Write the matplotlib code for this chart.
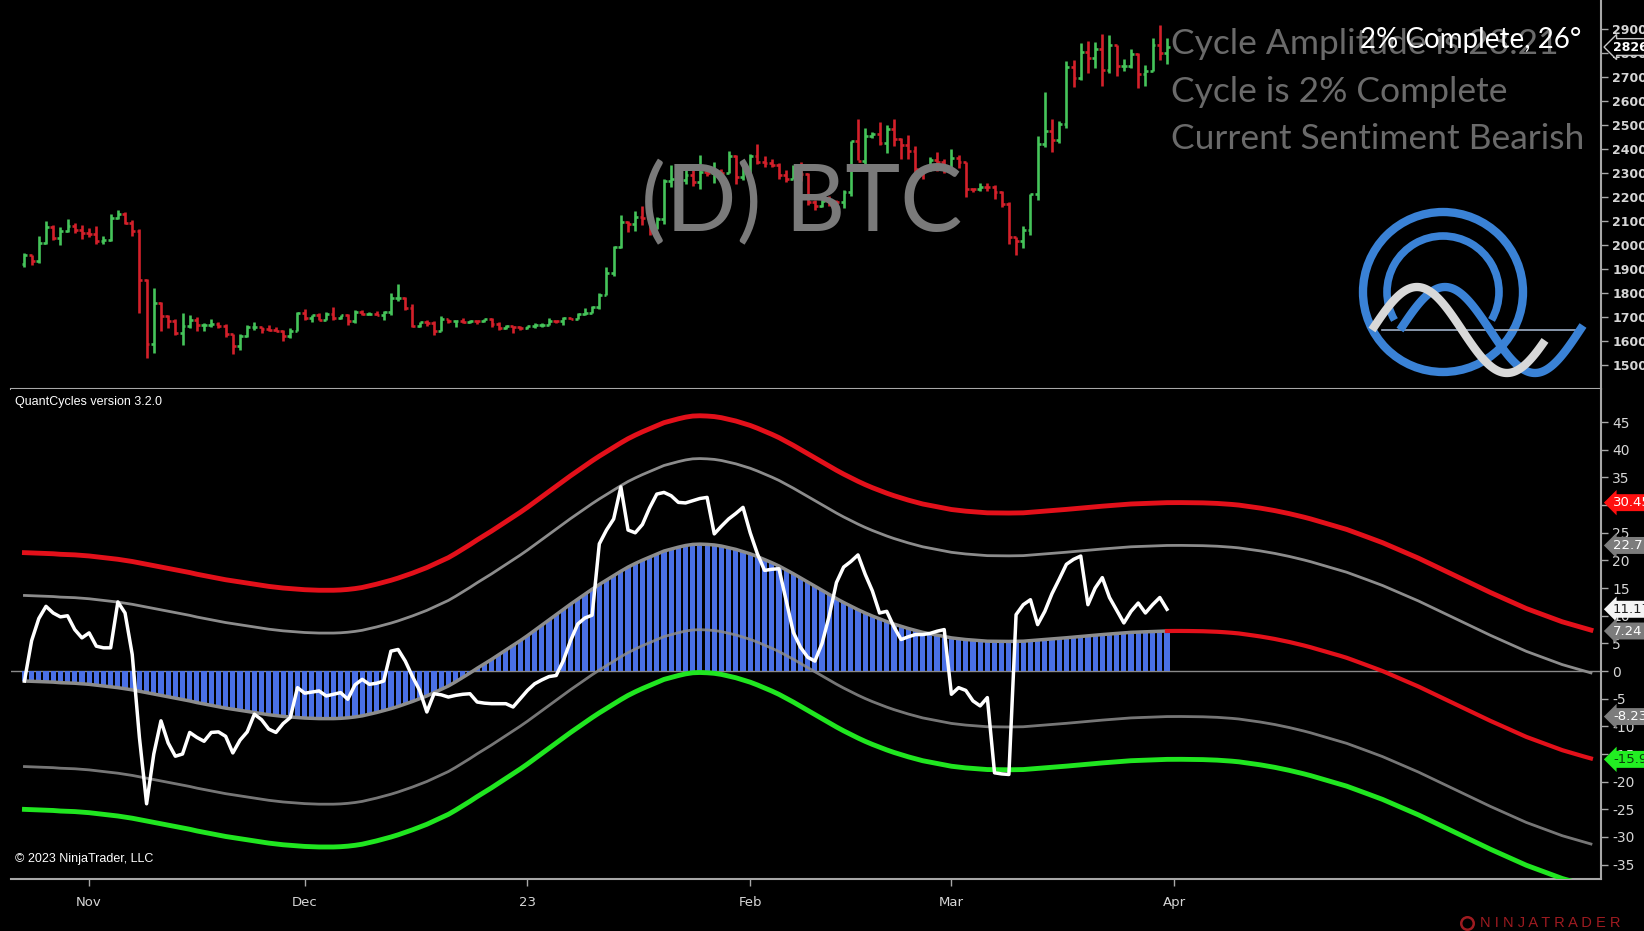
import numpy as np
import matplotlib.pyplot as plt
from matplotlib.patches import Circle, Arc
from matplotlib.lines import Line2D
from matplotlib.transforms import blended_transform_factory

W, H = 1644, 931

# daily bars, day 0 = 1 Nov 2022 (first bar 23 Oct 2022, last bar 31 Mar 2023)
first_day = -9

opens = [19205, 19570, 19330, 20090, 20770, 20290, 20600, 20810, 20630,
         20490, 20480, 20160, 20210, 21150, 21300, 20920, 20590, 18550, 15880, 17590, 17040, 16850, 16330, 16610,
         16890, 16670, 16690, 16700, 16630, 16290, 15780, 16230, 16600, 16600, 16520, 16460, 16440, 16210, 16440,
         17170, 16980, 17090, 16890, 17110, 16970, 17090, 16840, 17230, 17130, 17130, 17090, 17210, 17780, 17810,
         17360, 16630, 16780, 16740, 16440, 16900, 16820, 16830, 16780, 16840, 16830, 16920, 16700, 16540, 16630, 16600,
         16540, 16610, 16670, 16670, 16850, 16830, 16950, 16940, 17120, 17180, 17440, 17940, 18850, 19930, 20950,
         20870, 21180, 21130, 20680, 21080, 22670, 22780, 22710, 22920, 22630, 23060, 23010, 23080, 23030, 23740, 22830,
         23130, 23730, 23490, 23430, 23330, 22940, 22760, 23250, 22960, 21800, 21630, 21860, 21790, 21780, 22200,
         24330, 23530, 24570, 24630, 24280, 24840, 24440, 24190, 23940, 23180, 23150, 23560, 23490,
         23140, 23650, 23470, 22360, 22350, 22430, 22410, 22200, 21700, 20360, 20190, 20630, 22150, 24200, 24750,
         24370, 25050, 27420, 26960, 28040, 27790, 28170, 27300, 28330, 27480, 27480, 27990, 27130, 27270, 28350, 28030]
highs = [19690, 19600, 20400, 21000, 20850, 20750, 21080, 20930, 20830,
         20700, 20800, 20390, 21300, 21470, 21370, 21060, 20670, 18600, 18200, 17650, 17070, 16920, 17170, 17100,
         17000, 16750, 16900, 16800, 16730, 16300, 16280, 16680, 16800, 16600, 16690, 16590, 16480, 16530, 17200,
         17320, 17100, 17150, 17200, 17420, 17100, 17130, 17290, 17300, 17220, 17270, 17240, 18000, 18390, 17850,
         17530, 16800, 16870, 16820, 17040, 16910, 16870, 16950, 16860, 16860, 16940, 16960, 16780, 16650, 16640, 16630,
         16630, 16760, 16770, 16970, 16880, 17000, 16960, 17160, 17390, 17480, 17990, 19100, 19970, 21260, 21000,
         21440, 21620, 21640, 21190, 22750, 23340, 23060, 23150, 23130, 23780, 23240, 23490, 23160, 23930, 23780, 23300,
         23800, 24230, 23700, 23580, 23430, 23150, 23350, 23450, 23000, 21900, 21900, 22070, 21890, 22300, 24350,
         25250, 24900, 24700, 25130, 25030, 25250, 24470, 24600, 24130, 23220, 23690, 23880, 23600,
         24000, 23770, 23480, 22400, 22600, 22600, 22530, 22260, 21810, 20360, 20800, 22150, 24570, 26390, 25250,
         25190, 27700, 27720, 28430, 28500, 28470, 28800, 28750, 28370, 27780, 28200, 28020, 27500, 28650, 29170, 28640]
lows = [19080, 19160, 19250, 20060, 20220, 20000, 20560, 20520, 20250,
        20340, 20060, 20050, 20180, 21080, 20900, 20400, 17170, 15300, 15500, 16400, 16530, 16250, 15830, 16550,
        16400, 16430, 16580, 16550, 16160, 15480, 15630, 16170, 16460, 16350, 16430, 16400, 16000, 16110, 16440,
        16860, 16800, 16880, 16880, 16880, 16910, 16690, 16740, 17070, 17090, 17070, 16870, 17080, 17660, 17280,
        16590, 16590, 16630, 16270, 16400, 16740, 16570, 16770, 16760, 16730, 16790, 16590, 16470, 16490, 16330, 16480,
        16500, 16550, 16600, 16660, 16750, 16680, 16900, 16910, 17100, 17150, 17320, 17940, 18720, 19890, 20560,
        20600, 20850, 20410, 20670, 20870, 22430, 22330, 22540, 22480, 22340, 22880, 22580, 22900, 23000, 22570, 22720,
        22780, 23400, 23250, 23260, 22770, 22640, 22750, 22690, 21690, 21460, 21600, 21650, 21370, 21530, 22070,
        23550, 23370, 24450, 24180, 23860, 24150, 23590, 23600, 22850, 22740, 23080, 23100, 23020,
        23020, 23200, 21990, 22200, 22280, 22270, 21930, 21600, 20050, 19570, 19900, 20440, 21900, 24100, 23900,
        24250, 24900, 26610, 26900, 27200, 27370, 26650, 27180, 27040, 27280, 27400, 26550, 26650, 27250, 27720, 27550]
closes = [19570, 19330, 20090, 20770, 20290, 20600, 20810, 20630, 20490,
          20480, 20160, 20210, 21150, 21300, 20920, 20590, 18550, 15880, 17590, 17040, 16850, 16330, 16610, 16890,
          16670, 16690, 16700, 16630, 16290, 15780, 16230, 16600, 16600, 16520, 16460, 16440, 16210, 16440, 17170,
          16980, 17090, 16890, 17110, 16970, 17090, 16840, 17230, 17130, 17130, 17090, 17210, 17780, 17810, 17360,
          16630, 16780, 16740, 16440, 16900, 16820, 16830, 16780, 16840, 16830, 16920, 16700, 16540, 16630, 16600, 16540,
          16610, 16670, 16670, 16850, 16830, 16950, 16940, 17120, 17180, 17440, 17940, 18850, 19930, 20950, 20870,
          21180, 21130, 20680, 21080, 22670, 22780, 22710, 22920, 22630, 23060, 23010, 23080, 23030, 23740, 22830, 23130,
          23730, 23490, 23430, 23330, 22940, 22760, 23250, 22960, 21800, 21630, 21860, 21790, 21780, 22200, 24330,
          23530, 24570, 24630, 24280, 24840, 24440, 24190, 23940, 23180, 23150, 23560, 23490, 23140,
          23650, 23470, 22360, 22350, 22430, 22410, 22200, 21700, 20360, 20190, 20630, 22150, 24200, 24750, 24370,
          25050, 27420, 26960, 28040, 27790, 28170, 27300, 28330, 27480, 27480, 27990, 27130, 27270, 28350, 28030, 28265]

# cycle (histogram / centre line), day -9 .. 209 (projection after 31 Mar)
cycle = [-1.8, -1.85, -1.9, -1.95, -2.0, -2.1, -2.15, -2.2, -2.3, -2.4,
         -2.55, -2.7, -2.85, -3.0, -3.2, -3.4, -3.65, -3.9, -4.15, -4.4,
         -4.65, -4.9, -5.15, -5.4, -5.7, -5.95, -6.2, -6.45, -6.7, -6.9,
         -7.1, -7.3, -7.5, -7.7, -7.9, -8.05, -8.2, -8.3, -8.4, -8.5,
         -8.55, -8.6, -8.6, -8.6, -8.55, -8.45, -8.3, -8.1, -7.8, -7.5,
         -7.15, -6.8, -6.4, -5.95, -5.5, -5.0, -4.5, -3.9, -3.3, -2.7,
         -1.95, -1.15, -0.35, 0.5, 1.3, 2.1, 2.95, 3.8, 4.65, 5.5,
         6.4, 7.35, 8.3, 9.25, 10.2, 11.15, 12.1, 13.0, 13.9, 14.8,
         15.65, 16.45, 17.25, 18.05, 18.8, 19.45, 20.05, 20.6, 21.15, 21.7,
         22.05, 22.4, 22.7, 22.9, 22.95, 22.9, 22.8, 22.6, 22.3, 22.0,
         21.6, 21.2, 20.7, 20.15, 19.6, 19.0, 18.3, 17.6, 16.85, 16.1,
         15.35, 14.6, 13.85, 13.1, 12.4, 11.75, 11.1, 10.5, 9.95, 9.45,
         8.95, 8.5, 8.1, 7.7, 7.35, 7.0, 6.75, 6.5, 6.25, 6.0,
         5.85, 5.7, 5.6, 5.5, 5.4, 5.38, 5.36, 5.36, 5.38, 5.4,
         5.5, 5.6, 5.7, 5.8, 5.9, 6.02, 6.14, 6.26, 6.38, 6.5,
         6.6, 6.7, 6.8, 6.9, 7.0, 7.05, 7.1, 7.15, 7.2, 7.24,
         7.25, 7.25, 7.24, 7.22, 7.2, 7.15, 7.1, 7.02, 6.92, 6.8,
         6.62, 6.44, 6.25, 6.03, 5.8, 5.53, 5.26, 4.95, 4.64, 4.3,
         3.92, 3.55, 3.17, 2.8, 2.4, 1.93, 1.45, 0.97, 0.49, 0.0,
         -0.56, -1.12, -1.68, -2.24, -2.8, -3.42, -4.04, -4.66, -5.28, -5.9,
         -6.52, -7.14, -7.76, -8.38, -9.0, -9.58, -10.16, -10.74, -11.32, -11.9,
         -12.38, -12.86, -13.34, -13.82, -14.3, -14.68, -15.06, -15.44, -15.8]
# band offsets read from the right-hand value tags
outer_band = 23.21
inner_band = 15.47

# oscillator (white line), day -9 .. 150
osc = [-1.8, 5.5, 9.5, 11.7, 10.5, 9.8, 10.0, 7.5, 6.0, 6.9,
       4.5, 4.2, 4.2, 12.5, 10.5, 3.0, -12.0, -24.0, -15.0, -9.0,
       -13.0, -15.4, -15.0, -11.1, -12.0, -12.7, -11.1, -11.0, -11.8, -14.8,
       -12.5, -11.0, -7.8, -8.8, -10.5, -11.1, -9.5, -8.4, -3.0, -4.0,
       -3.8, -3.6, -4.5, -4.2, -3.9, -5.1, -2.5, -1.5, -2.4, -2.2,
       -1.8, 3.6, 3.9, 1.8, -1.0, -3.5, -7.4, -4.1, -4.3, -4.7,
       -4.4, -4.2, -4.1, -5.6, -5.8, -5.9, -5.9, -5.9, -6.5, -5.0,
       -3.5, -2.3, -1.6, -1.0, -0.8, 1.9, 5.5, 8.5, 9.6, 10.1,
       23.0, 25.5, 27.5, 33.3, 25.5, 25.0, 26.5, 29.5, 32.0, 32.3,
       31.7, 30.5, 30.4, 30.8, 31.2, 31.4, 24.8, 26.2, 27.5, 28.5,
       29.6, 25.0, 21.2, 18.2, 18.4, 18.5, 12.8, 7.0, 4.3, 2.5,
       1.8, 5.0, 10.0, 16.0, 18.8, 19.8, 21.0, 17.5, 14.5, 10.5,
       10.8, 8.0, 5.7, 6.2, 6.6, 6.6, 6.8, 7.2, 7.5, -4.2,
       -3.0, -3.5, -5.4, -6.3, -4.8, -18.4, -18.6, -18.7, 10.2, 12.0,
       12.9, 8.4, 10.8, 14.0, 16.6, 19.3, 20.2, 20.8, 12.0, 15.0,
       16.9, 13.3, 11.0, 8.7, 10.8, 12.3, 10.5, 12.0, 13.3, 11.17]

month_days = [0, 30, 61, 92, 120, 151]
month_labels = ['Nov', 'Dec', '23', 'Feb', 'Mar', 'Apr']
price_ticks = list(range(15000, 30000, 1000))
osc_ticks = list(range(-35, 50, 5))

# value tags on the right of the lower pane: value, fill, text colour
tag_values = [30.45, 22.71, 11.17, 7.24, -8.23, -15.97]
tag_fill = ['#ff1010', '#7c7c7c', '#f4f4f4', '#7c7c7c', '#7c7c7c', '#22ee22']
tag_text = ['white', 'white', '#202020', 'white', 'white', '#0b3b0b']

GREEN = '#45c45a'
RED = '#d3202a'
BAND_RED = '#e3101a'
BAND_GRAY = '#8c8c8c'
BAND_GREEN = '#20e620'
AXIS = '#a8a8a8'
LABEL = '#d6d6d6'


def fx(x):
    return x / W


def fy(y):
    return 1 - y / H


fig = plt.figure(figsize=(W / 100, H / 100), dpi=100, facecolor='black')
ax1 = fig.add_axes([fx(10.5), fy(389), (1601 - 10.5) / W, 389 / H])
ax2 = fig.add_axes([fx(10.5), fy(879), (1601 - 10.5) / W, (879 - 389) / H])

for ax in (ax1, ax2):
    ax.set_facecolor('black')
    ax.set_xlim(-10.94, 210.4)
    ax.spines['top'].set_visible(False)
    ax.spines['left'].set_visible(False)
    for s in ('right', 'bottom'):
        ax.spines[s].set_color(AXIS)
        ax.spines[s].set_linewidth(1.5)
    ax.yaxis.tick_right()
    ax.tick_params(axis='y', colors=AXIS, labelcolor=LABEL, length=5, width=1, pad=3)

# ---- price pane ----
days = np.arange(first_day, first_day + len(closes))
up = np.array(closes) >= np.array(opens)
bar_col = np.where(up, GREEN, RED)
ax1.vlines(days, lows, highs, colors=bar_col, lw=1.9, zorder=3)
ax1.hlines(opens, days - 0.4, days, colors=bar_col, lw=1.9, zorder=3)
ax1.hlines(closes, days, days + 0.4, colors=bar_col, lw=1.9, zorder=3)
ax1.set_ylim(14000, 30227)
ax1.set_xticks([])
ax1.set_yticks(price_ticks)
ax1.set_yticklabels([str(t) for t in price_ticks], fontsize=9, fontweight='bold',
                    family='DejaVu Sans')

tr1 = blended_transform_factory(ax1.transAxes, ax1.transData)
ax1.text(1.0075, closes[-1], str(closes[-1]), transform=tr1, fontsize=9, fontweight='bold',
         color='white', va='center', ha='left', clip_on=False, zorder=6,
         bbox=dict(boxstyle='larrow,pad=0.15', fc='black', ec='#c8c8c8', lw=1))

fig.text(fx(802), fy(204), '(D) BTC', fontsize=67, color='#7a7a7a', family='Lato',
         ha='center', va='center', zorder=1)
fig.text(fx(1171), fy(44), 'Cycle Amplitude is 23.21', fontsize=25.5, color='#6a6a6a',
         family='Lato', ha='left', va='center')
fig.text(fx(1171), fy(92), 'Cycle is 2% Complete', fontsize=25.5, color='#6a6a6a',
         family='Lato', ha='left', va='center')
fig.text(fx(1171), fy(139), 'Current Sentiment Bearish', fontsize=25.5, color='#6a6a6a',
         family='Lato', ha='left', va='center')
fig.text(fx(1360), fy(40), '2% Complete, 26°', fontsize=20, color='white',
         family='Lato', ha='left', va='center', zorder=5)

# ---- logo ----
BLUE = '#3a82d6'
lg = fig.add_axes([fx(1330), fy(395), 270 / W, 210 / H])
lg.set_xlim(1330, 1600)
lg.set_ylim(395, 185)
lg.axis('off')
lg.patch.set_alpha(0)
lg.add_patch(Circle((1443, 292), 80, fill=False, ec=BLUE, lw=6))
lg.add_patch(Arc((1443, 292), 112, 112, theta1=150, theta2=390, ec=BLUE, lw=5.5))
lg.plot([1382, 1583], [330, 330], color='#9fb0c8', lw=1.2)
wx = np.linspace(1400, 1583, 120)
lg.plot(wx, 330 - 43 * np.sin(2 * np.pi * (wx - 1400) / 180), color=BLUE, lw=6,
        solid_capstyle='butt')
wx2 = np.linspace(1372, 1545, 120)
lg.plot(wx2, 330 - 43 * np.sin(2 * np.pi * (wx2 - 1372) / 180), color='#d8d8d8', lw=6,
        solid_capstyle='butt')

# ---- cycle pane ----
cdays = np.arange(first_day, first_day + len(cycle))
cyc = np.array(cycle)
n = len(osc)
ax2.axhline(0, color='#8a8a8a', lw=1, zorder=1)
ax2.bar(cdays[:n], cyc[:n], width=0.72, color='#4a70e6', zorder=2)
ax2.plot(cdays, cyc + outer_band, color=BAND_RED, lw=3.5, zorder=3)
ax2.plot(cdays, cyc + inner_band, color=BAND_GRAY, lw=2, zorder=3)
ax2.plot(cdays, cyc - inner_band, color=BAND_GRAY, lw=2, zorder=3, alpha=0.85)
ax2.plot(cdays, cyc - outer_band, color=BAND_GREEN, lw=3.5, zorder=3)
ax2.plot(cdays[:n], cyc[:n], color=BAND_GRAY, lw=2.5, zorder=4)
ax2.plot(cdays[n - 1:], cyc[n - 1:], color=BAND_RED, lw=3, zorder=4)
ax2.plot(cdays[:n], osc, color='white', lw=2.5, zorder=5)
ax2.set_ylim(-37.6, 51.0)
ax2.set_yticks(osc_ticks)
ax2.set_yticklabels([str(t) for t in osc_ticks], fontsize=10, family='DejaVu Sans')
ax2.set_xticks(month_days)
ax2.set_xticklabels(month_labels, fontsize=9.5, color=LABEL, family='DejaVu Sans')
ax2.tick_params(axis='x', colors=AXIS, labelcolor=LABEL, length=5, width=1, pad=7)

tr2 = blended_transform_factory(ax2.transAxes, ax2.transData)
for v, fc, tc in zip(tag_values, tag_fill, tag_text):
    ax2.text(1.0075, v, '%.2f' % v, transform=tr2, fontsize=9.5, color=tc, va='center',
             ha='left', clip_on=False, zorder=6,
             bbox=dict(boxstyle='larrow,pad=0.15', fc=fc, ec='none'))

fig.text(fx(15), fy(402), 'QuantCycles version 3.2.0', fontsize=9, color='white',
         family='Liberation Sans', ha='left', va='center')
fig.text(fx(15), fy(859), '© 2023 NinjaTrader, LLC', fontsize=9, color='white',
         family='Liberation Sans', ha='left', va='center')
fig.add_artist(Line2D([fx(1467)], [fy(923)], marker='o', ms=9, mfc='none', mec='#9e1b20',
                      mew=1.8, transform=fig.transFigure))
fig.text(fx(1480), fy(923), 'N I N J A T R A D E R', fontsize=10.5, color='#9e1b20',
         family='Liberation Sans', ha='left', va='center')

fig.savefig('out.png', dpi=100, facecolor='black')
